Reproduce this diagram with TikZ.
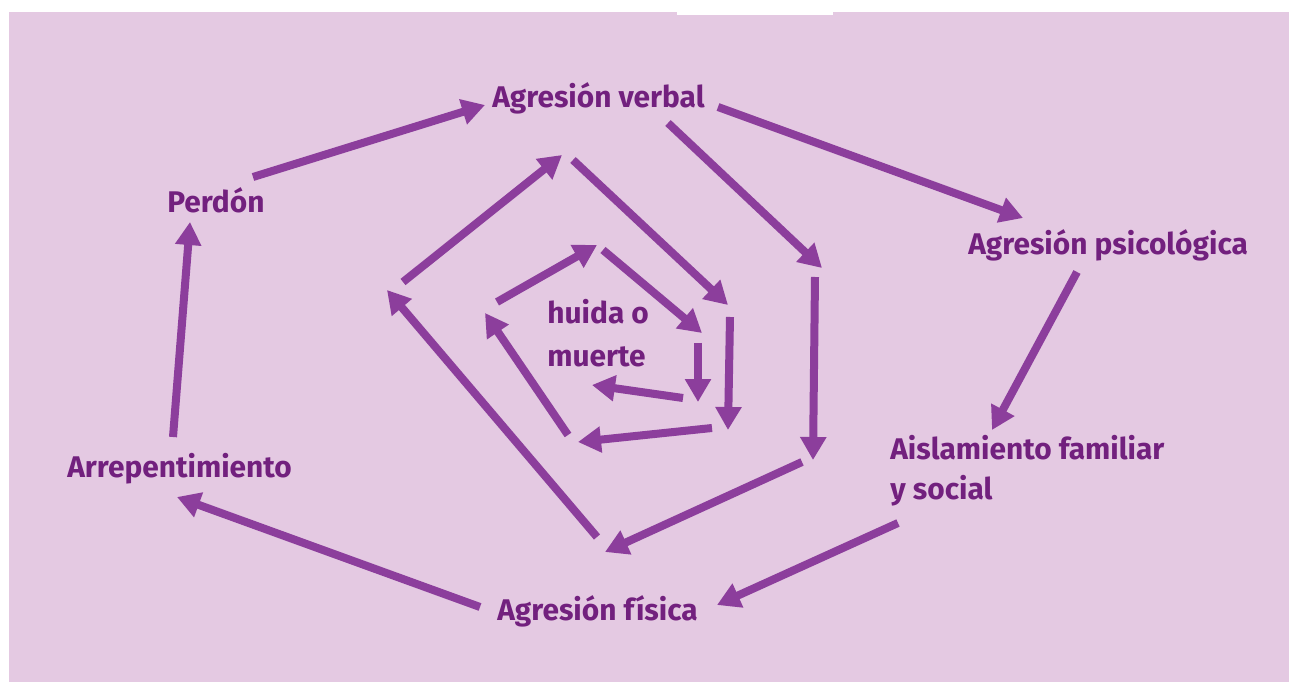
\documentclass[tikz,border=0pt]{standalone}
\usepackage{fontspec}
\setmainfont{Fira Sans}
\usepackage{xcolor}
\usetikzlibrary{arrows.meta,calc}

\definecolor{bgpink}{RGB}{228,201,226}
\definecolor{arrowpurple}{RGB}{140,62,156}
\definecolor{textpurple}{RGB}{114,32,126}

\begin{document}
\begin{tikzpicture}[x=0.02cm,y=-0.02cm,
    arr/.style={arrowpurple, line width=0.16cm, -{Triangle[length=0.46cm,width=0.5cm]}},
    lbl/.style={textpurple, inner sep=0pt, font=\fontsize{17}{20}\selectfont\bfseries}]

\fill[white] (0,0) rectangle (1289,682);
\fill[bgpink] (9,12) rectangle (1289,682);
\fill[white] (677,12) rectangle (833,15);

\node[lbl, anchor=base west] (verbal) at (492,108) {Agresión verbal};
\node[lbl, anchor=base west] (psico) at (968,255) {Agresión psicológica};
\node[lbl, anchor=base west, align=left] (aislam) at (890,500) {Aislamiento familiar\\[3pt]y social};
\node[lbl, anchor=base west] (fisica) at (497,620) {Agresión física};
\node[lbl, anchor=base west] (arrep) at (67,478) {Arrepentimiento};
\node[lbl, anchor=base west] (perdon) at (167,213) {Perdón};
\node[lbl, anchor=base west, align=left] (huida) at (547,367) {huida o\\[5pt]muerte};

\foreach \n/\s/\t in {
    pv/{253,177}/{485,105}, vp/{718,107}/{1023,218}, pa/{1077,272}/{992,430},
    af/{898,523}/{717,605}, fa/{480,607}/{177,497}, ap/{173,437}/{190,222},
    b1/{668,123}/{822,268}, b2/{815,277}/{813,460}, b3/{802,462}/{605,552},
    b4/{597,537}/{387,290}, b5/{403,282}/{562,155}, b6/{573,160}/{728,305},
    c1/{730,317}/{728,430}, c2/{712,428}/{578,442}, c3/{568,435}/{485,313},
    c4/{497,302}/{597,245}, c5/{603,250}/{702,333}, c6/{698,343}/{698,402},
    c7/{683,398}/{592,385}}{
  \coordinate (\n s) at (\s);
  \coordinate (\n t) at (\t);
  \draw[arr] (\n s) -- (\n t);
}

\end{tikzpicture}
\end{document}
